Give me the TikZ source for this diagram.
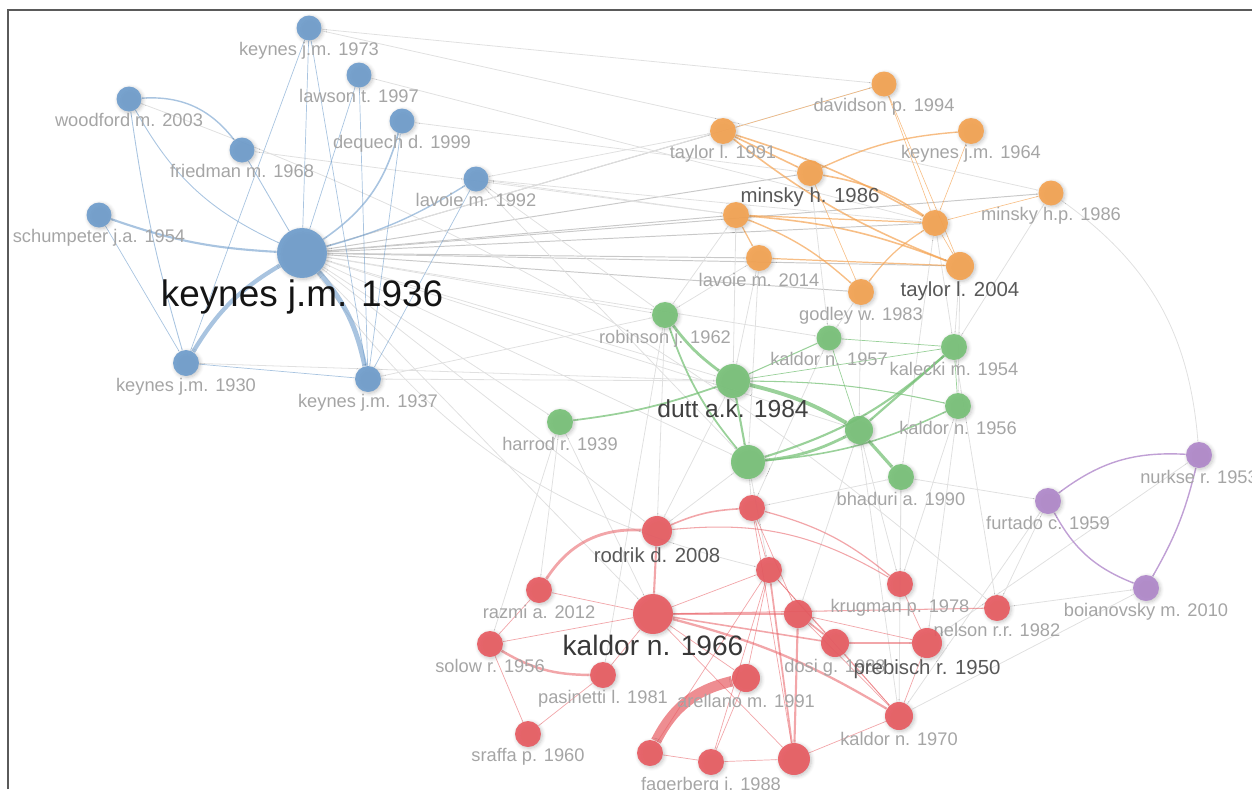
\documentclass[tikz,border=0pt]{standalone}
\usepackage{fontspec}
\setmainfont{Liberation Sans}
\usetikzlibrary{backgrounds,shadows.blur}
\definecolor{bluec}{RGB}{111,157,204}
\definecolor{orangec}{RGB}{244,163,82}
\definecolor{greenc}{RGB}{120,193,120}
\definecolor{redc}{RGB}{231,92,98}
\definecolor{purplec}{RGB}{176,136,202}
\definecolor{lblc}{RGB}{165,165,165}
\definecolor{midc}{RGB}{88,88,88}
\definecolor{framec}{RGB}{90,90,90}
\begin{document}
\begin{tikzpicture}[x=0.02cm,y=-0.02cm,
  dot/.style={circle,inner sep=0pt,minimum size=#1*0.04cm,fill opacity=.92,
    blur shadow={shadow blur steps=6,shadow xshift=0.8pt,shadow yshift=-0.8pt,shadow opacity=25}},
  lsm/.style={font=\fontsize{10.4}{12}\selectfont,text=lblc,inner sep=0pt,label distance=0.6pt},
  lmd/.style={font=\fontsize{11.6}{13}\selectfont,text=midc,inner sep=0pt,label distance=0.6pt},
  sm/.style={label={[lsm]below:#1}},
  md/.style={label={[lmd]below:#1}},
  blueln/.style={draw=bluec,draw opacity=.6,line width=#1},
  blueln/.default=0.5pt,
  orangeln/.style={draw=orangec,draw opacity=.7,line width=#1},
  orangeln/.default=0.5pt,
  greenln/.style={draw=greenc,draw opacity=.75,line width=#1},
  greenln/.default=0.5pt,
  redln/.style={draw=redc,draw opacity=.55,line width=#1},
  redln/.default=0.4pt,
  purpleln/.style={draw=purplec,draw opacity=.8,line width=#1},
  purpleln/.default=0.8pt,
  grayln/.style={draw=black!12,line width=0.45pt},
  fanln/.style={draw=black!21,line width=0.55pt}]
\useasboundingbox (0,0) rectangle (1252,789);
\draw[framec,line width=1.2pt] (8,789) -- (8,10) -- (1252,10);

% blue cluster
\node[dot=12.5,fill=bluec,sm={keynes j.m. 1973}] (2) at (309,28) {};
\node[dot=12.5,fill=bluec,sm={lawson t. 1997}] (3) at (359,75) {};
\node[dot=12.5,fill=bluec,sm={woodford m. 2003}] (4) at (129,99) {};
\node[dot=12.5,fill=bluec,sm={dequech d. 1999}] (5) at (402,121) {};
\node[dot=12.5,fill=bluec,sm={friedman m. 1968}] (6) at (242,150) {};
\node[dot=12.5,fill=bluec,sm={lavoie m. 1992}] (7) at (476,179) {};
\node[dot=12.5,fill=bluec,sm={schumpeter j.a. 1954}] (8) at (99,215) {};
\node[dot=13,fill=bluec,sm={keynes j.m. 1930}] (9) at (186,363) {};
\node[dot=13,fill=bluec,sm={keynes j.m. 1937}] (10) at (368,379) {};
\node[dot=25,fill=bluec,label={[font=\fontsize{21}{24}\selectfont,text=black!92,inner sep=0pt,label distance=0.5pt]below:keynes j.m. 1936}] (1) at (302,253) {};

% orange cluster
\node[dot=12.5,fill=orangec,sm={davidson p. 1994}] (11) at (884,84) {};
\node[dot=13,fill=orangec,sm={taylor l. 1991}] (12) at (723,131) {};
\node[dot=13,fill=orangec,sm={keynes j.m. 1964}] (13) at (971,131) {};
\node[dot=13,fill=orangec,md={minsky h. 1986}] (14) at (810,173) {};
\node[dot=12.5,fill=orangec,sm={minsky h.p. 1986}] (15) at (1051,193) {};
\node[dot=13,fill=orangec] (16) at (736,215) {};
\node[dot=13,fill=orangec,sm={lavoie m. 2014}] (17) at (759,258) {};
\node[dot=13,fill=orangec] (18) at (935,223) {};
\node[dot=14,fill=orangec,md={taylor l. 2004}] (19) at (960,266) {};
\node[dot=13,fill=orangec,sm={godley w. 1983}] (20) at (861,292) {};

% green cluster
\node[dot=13,fill=greenc,sm={robinson j. 1962}] (21) at (665,315) {};
\node[dot=12.5,fill=greenc,sm={kaldor n. 1957}] (22) at (829,338) {};
\node[dot=13,fill=greenc,sm={kalecki m. 1954}] (23) at (954,347) {};
\node[dot=13,fill=greenc,sm={harrod r. 1939}] (25) at (560,422) {};
\node[dot=14,fill=greenc] (26) at (859,430) {};
\node[dot=13,fill=greenc,sm={kaldor n. 1956}] (27) at (958,406) {};
\node[dot=17,fill=greenc] (28) at (748,462) {};
\node[dot=13,fill=greenc,sm={bhaduri a. 1990}] (29) at (901,477) {};
\node[dot=17,fill=greenc,label={[font=\fontsize{14}{16}\selectfont,text=black!75,inner sep=0pt,label distance=0.5pt]below:dutt a.k. 1984}] (24) at (733,381) {};

% purple cluster
\node[dot=13,fill=purplec,sm={nurkse r. 1953}] (31) at (1199,455) {};
\node[dot=13,fill=purplec,sm={furtado c. 1959}] (32) at (1048,501) {};
\node[dot=13,fill=purplec,sm={boianovsky m. 2010}] (33) at (1146,588) {};

% red cluster
\node[dot=13,fill=redc] (41) at (752,508) {};
\node[dot=13,fill=redc] (43) at (769,570) {};
\node[dot=13,fill=redc,sm={razmi a. 2012}] (44) at (539,590) {};
\node[dot=13,fill=redc,sm={krugman p. 1978}] (45) at (900,584) {};
\node[dot=13,fill=redc,sm={nelson r.r. 1982}] (46) at (997,608) {};
\node[dot=14,fill=redc] (48) at (798,614) {};
\node[dot=14,fill=redc,sm={dosi g. 1988}] (49) at (835,643) {};
\node[dot=15,fill=redc,md={prebisch r. 1950}] (50) at (927,643) {};
\node[dot=13,fill=redc,sm={solow r. 1956}] (51) at (490,644) {};
\node[dot=13,fill=redc,sm={pasinetti l. 1981}] (52) at (603,675) {};
\node[dot=14,fill=redc,sm={arellano m. 1991}] (53) at (746,678) {};
\node[dot=14,fill=redc,sm={kaldor n. 1970}] (54) at (899,716) {};
\node[dot=13,fill=redc,sm={sraffa p. 1960}] (55) at (528,734) {};
\node[dot=13,fill=redc] (56) at (650,753) {};
\node[dot=13,fill=redc,sm={fagerberg j. 1988}] (57) at (711,762) {};
\node[dot=16,fill=redc] (58) at (794,759) {};
\node[dot=15,fill=redc,md={rodrik d. 2008}] (42) at (657,531) {};
\node[dot=20,fill=redc,label={[font=\fontsize{16}{19}\selectfont,text=black!78,inner sep=0pt,label distance=0.5pt]below:kaldor n. 1966}] (47) at (653,614) {};

\begin{scope}[on background layer]
% links between clusters
\foreach \b in {12,14,15,16,17,18,19,20}
  \path[draw,fanln] (1) -- (\b);
\foreach \a/\b in {1/11,1/21,1/22,1/24,1/25,1/26,1/28,1/42,1/47,2/11,2/15,3/18,5/14,
    7/12,7/16,7/18,7/21,7/28,10/21,10/24,9/24,6/16,
    21/16,21/17,24/16,24/17,22/20,23/18,23/19,27/19,29/18,26/20,28/17,23/15,22/14,
    25/47,25/44,25/51,28/41,28/42,28/43,29/41,29/45,26/45,26/48,24/42,21/42,21/52,
    27/50,27/45,29/32,32/46,33/46,33/54,32/54,31/50,29/54,26/54,23/46,41/22}
  \path[draw,grayln] (\a) -- (\b);
\path[draw,grayln] (15) to[bend left=25] (31);
\path[draw,grayln] (1) to[bend right=20] (43);
\path[draw,grayln] (4) to[bend left=10] (46);

% blue links
\path[draw,blueln=1.2pt] (8) to[bend right=8] (1);
\path[draw,blueln=0.8pt] (4) to[bend left=28] (6);
\path[draw,blueln] (6) -- (1);
\path[draw,blueln] (4) to[bend right=18] (1);
\path[draw,blueln] (4) to[bend right=4] (9);
\path[draw,blueln=0.9pt] (5) to[bend left=20] (1);
\path[draw,blueln=0.8pt] (7) to[bend left=8] (1);
\path[draw,blueln=2.4pt] (1) to[bend right=14] (9);
\path[draw,blueln=2.8pt] (1) to[bend left=14] (10);
\foreach \a/\b in {2/9,2/1,2/10,3/1,3/10,5/10,9/10,8/9,7/10}
  \path[draw,blueln=0.4pt] (\a) -- (\b);

% orange links
\path[draw,orangeln=0.9pt] (12) -- (14);
\path[draw,orangeln=0.9pt] (12) to[bend left=6] (18);
\path[draw,orangeln=0.9pt] (12) to[bend right=8] (19);
\path[draw,orangeln=0.8pt] (14) to[bend left=10] (13);
\path[draw,orangeln=0.9pt] (14) to[bend left=12] (18);
\path[draw,orangeln=0.9pt] (16) to[bend left=8] (19);
\path[draw,orangeln=0.8pt] (16) to[bend left=10] (20);
\path[draw,orangeln=0.7pt] (16) -- (17);
\path[draw,orangeln=0.7pt] (17) -- (19);
\path[draw,orangeln=0.7pt] (16) -- (18);
\path[draw,orangeln=0.7pt] (20) to[bend left=10] (18);
\foreach \a/\b in {11/12,11/18,15/18,13/18,14/20,18/19,11/19}
  \path[draw,orangeln=0.35pt] (\a) -- (\b);

% green links
\path[draw,greenln=1.6pt] (21) to[bend right=8] (24);
\path[draw,greenln=1pt] (21) to[bend right=10] (28);
\path[draw,greenln=2.2pt] (24) to[bend left=8] (26);
\path[draw,greenln=0.6pt] (24) to[bend left=6] (27);
\path[draw,greenln=0.6pt] (24) -- (22);
\path[draw,greenln=1.2pt] (24) -- (28);
\path[draw,greenln=1.6pt] (28) to[bend right=10] (26);
\path[draw,greenln=1.2pt] (28) to[bend right=12] (23);
\path[draw,greenln=0.9pt] (28) to[bend right=10] (27);
\path[draw,greenln=1.8pt] (26) -- (29);
\path[draw,greenln=1.3pt] (26) -- (23);
\path[draw,greenln=1pt] (25) to[bend right=6] (24);
\foreach \a/\b in {23/27,22/23,24/23,22/26}
  \path[draw,greenln=0.4pt] (\a) -- (\b);

% purple links
\path[draw,purpleln] (32) to[bend left=20] (31);
\path[draw,purpleln] (32) to[bend right=20] (33);
\path[draw,purpleln] (33) to[bend right=8] (31);

% red links
\path[draw,redln=1.2pt] (42) -- (47);
\path[draw,redln=1.6pt] (44) to[bend left=30] (42);
\path[draw,redln=0.9pt] (42) to[bend left=10] (41);
\path[draw,redln=0.6pt] (42) to[bend left=18] (45);
\path[draw,redln=1.6pt] (47) -- (48);
\path[draw,redln=0.6pt] (47) -- (46);
\path[draw,redln=1.3pt] (47) to[bend left=8] (54);
\path[draw,redln=0.9pt] (47) -- (49);
\path[draw,redln=1.4pt] (51) to[bend right=15] (52);
\path[draw,redln=6pt,draw opacity=.7] (56) to[bend left=25] (53);
\path[draw,redln=1pt] (43) -- (58);
\path[draw,redln=1.2pt] (48) -- (58);
\path[draw,redln=1pt] (48) -- (49);
\path[draw,redln=1.6pt] (49) -- (50);
\path[draw,redln=0.7pt] (41) to[bend left=12] (45);
\foreach \a/\b in {47/43,47/53,51/55,52/55,43/57,43/54,43/49,41/58,48/54,45/50,57/58,56/57,
    53/57,44/47,51/47,50/54,52/47,49/54,41/43,43/53,48/50,41/48,44/51,58/54,56/43,47/58}
  \path[draw,redln] (\a) -- (\b);
\end{scope}
\end{tikzpicture}
\end{document}
